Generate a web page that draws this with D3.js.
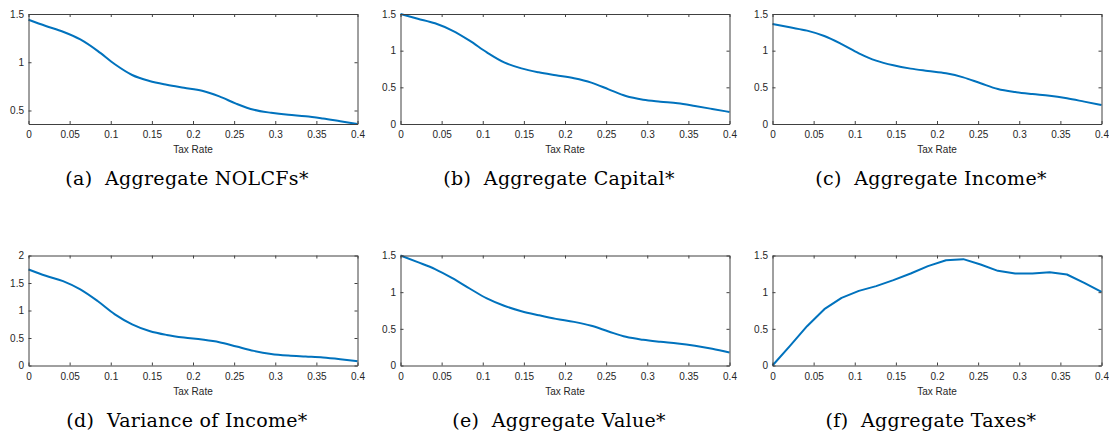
<!DOCTYPE html>
<html>
<head>
<meta charset="utf-8">
<script src="https://cdn.jsdelivr.net/npm/d3@7/dist/d3.min.js"></script>
<style>
body { margin: 0; background: #fff; }
.tick text { font-family: "Liberation Sans", Arial, sans-serif; font-size: 10px; fill: #262626; }
</style>
</head>
<body>
<div id="chart"></div>
<script>

var taxRate = [0, 0.021, 0.042, 0.063, 0.084, 0.105, 0.126, 0.147, 0.168, 0.189,
               0.211, 0.232, 0.253, 0.274, 0.295, 0.316, 0.337, 0.358, 0.379, 0.4];
var xTicks = [0, 0.05, 0.1, 0.15, 0.2, 0.25, 0.3, 0.35, 0.4];

var nolcfs = [1.44, 1.375, 1.316, 1.236, 1.118, 0.979, 0.868, 0.806, 0.767, 0.736,
              0.705, 0.646, 0.569, 0.507, 0.476, 0.455, 0.441, 0.417, 0.389, 0.361];
var capital = [1.5, 1.436, 1.373, 1.273, 1.136, 0.977, 0.841, 0.759, 0.705, 0.664,
               0.623, 0.564, 0.473, 0.382, 0.332, 0.305, 0.282, 0.245, 0.205, 0.164];
var income = [1.364, 1.318, 1.273, 1.2, 1.09, 0.964, 0.864, 0.8, 0.755, 0.723,
              0.691, 0.636, 0.555, 0.477, 0.436, 0.409, 0.386, 0.35, 0.305, 0.259];
var varIncome = [1.746, 1.631, 1.535, 1.384, 1.172, 0.93, 0.749, 0.628, 0.556, 0.508,
                 0.471, 0.423, 0.344, 0.266, 0.211, 0.181, 0.163, 0.145, 0.115, 0.079];
var value = [1.5, 1.409, 1.314, 1.19, 1.05, 0.914, 0.814, 0.741, 0.686, 0.636,
             0.595, 0.541, 0.464, 0.391, 0.35, 0.323, 0.3, 0.268, 0.227, 0.177];
var taxes = [0, 0.264, 0.536, 0.768, 0.923, 1.018, 1.082, 1.164, 1.255, 1.355,
             1.436, 1.45, 1.377, 1.291, 1.255, 1.255, 1.273, 1.241, 1.127, 1.005];

var captions = ["(a)  Aggregate NOLCFs*", "(b)  Aggregate Capital*", "(c)  Aggregate Income*",
                "(d)  Variance of Income*", "(e)  Aggregate Value*", "(f)  Aggregate Taxes*"];
var series = [nolcfs, capital, income, varIncome, value, taxes];
var yDomains = [[0.36, 1.5], [0, 1.5], [0, 1.5], [0, 2], [0, 1.5], [0, 1.5]];
var yTicks = [[0.5, 1, 1.5], [0, 0.5, 1, 1.5], [0, 0.5, 1, 1.5],
              [0, 0.5, 1, 1.5, 2], [0, 0.5, 1, 1.5], [0, 0.5, 1, 1.5]];

var W = 1109, H = 431;
var colLeft = [28.5, 400.5, 772.5];
var rowTop = [14, 255.5];
var pw = 329, ph = 110;

var svg = d3.select("#chart").append("svg")
    .attr("width", W)
    .attr("height", H);

var fmt = d3.format("~g");

series.forEach(function(data, k) {
    var left = colLeft[k % 3], top = rowTop[Math.floor(k / 3)];
    var g = svg.append("g").attr("transform", "translate(" + left + "," + top + ")");

    var x = d3.scaleLinear().domain([0, 0.4]).range([0, pw]);
    var y = d3.scaleLinear().domain(yDomains[k]).range([ph, 0]);

    // taxes curve has visible corners, the others look smooth
    var curve = k == 5 ? d3.curveLinear : d3.curveMonotoneX;

    g.append("path")
        .datum(data)
        .attr("fill", "none")
        .attr("stroke", "#0072BD")
        .attr("stroke-width", 2)
        .attr("stroke-linejoin", "round")
        .attr("d", d3.line()
            .curve(curve)
            .x(function(d, i) { return x(taxRate[i]); })
            .y(function(d) { return y(d); }));

    // axes, MATLAB style box with inward ticks
    var bottom = g.append("g").attr("transform", "translate(0," + ph + ")")
        .call(d3.axisBottom(x).tickValues(xTicks).tickFormat(fmt).tickSizeInner(-3).tickSizeOuter(0).tickPadding(7));
    var topAx = g.append("g")
        .call(d3.axisTop(x).tickValues(xTicks).tickFormat("").tickSizeInner(-3).tickSizeOuter(0));
    var leftAx = g.append("g")
        .call(d3.axisLeft(y).tickValues(yTicks[k]).tickFormat(fmt).tickSizeInner(-3).tickSizeOuter(0).tickPadding(4.5));
    var rightAx = g.append("g").attr("transform", "translate(" + pw + ",0)")
        .call(d3.axisRight(y).tickValues(yTicks[k]).tickFormat("").tickSizeInner(-3).tickSizeOuter(0));

    [bottom, topAx, leftAx, rightAx].forEach(function(a) {
        a.select(".domain").attr("stroke", "#404040").attr("stroke-width", 1);
        a.selectAll(".tick line").attr("stroke", "#404040");
    });

    g.append("text")
        .attr("x", pw / 2)
        .attr("y", ph + 29)
        .attr("text-anchor", "middle")
        .style("font-family", "Liberation Sans, Arial, sans-serif")
        .style("font-size", "10px")
        .style("fill", "#262626")
        .text("Tax Rate");

    g.append("text")
        .attr("x", pw / 2 - 6)
        .attr("y", ph + 61)
        .attr("text-anchor", "middle")
        .attr("xml:space", "preserve")
        .style("white-space", "pre")
        .style("font-family", "DejaVu Serif, serif")
        .style("font-size", "19px")
        .style("letter-spacing", "0.3px")
        .style("fill", "#000")
        .text(captions[k]);
});

</script>
</body>
</html>
